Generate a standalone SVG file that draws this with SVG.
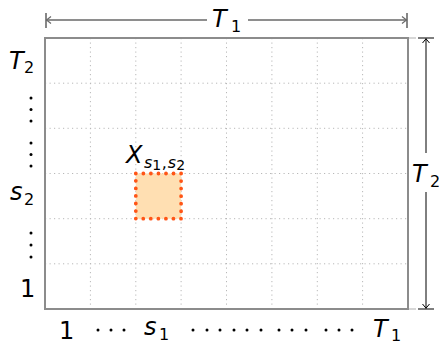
<svg xmlns="http://www.w3.org/2000/svg" width="439" height="344" viewBox="0 0 439 344">
<style>
.grid{stroke:#b8b8b8;stroke-width:1;stroke-dasharray:1.2 3.3;fill:none}
.frame{stroke:#8c8c8c;stroke-width:2;fill:none}
.ext{stroke:#b0b0b0;stroke-width:1.2}
.t{font-family:"DejaVu Sans",sans-serif;font-size:24px;fill:#000}
.s{font-family:"DejaVu Sans",sans-serif;font-size:16px;fill:#000}
.i{font-style:italic}
.dot{fill:#000}
</style>
<g id="grid">
<path class="grid" d="M90.4 38V309M135.8 38V309M181.1 38V309M226.5 38V309M271.9 38V309M317.3 38V309M362.6 38V309M45 83.2H408M45 128.3H408M45 173.5H408M45 218.7H408M45 263.8H408"/>
</g>
<g id="frame">
<rect class="frame" x="45" y="38" width="363" height="271"/>
<path class="ext" d="M409 38H416M409 309H416"/>
</g>
<g id="cell">
<rect x="135.8" y="173.5" width="45.3" height="45.2" fill="#FFDFB2" stroke="#FF5516" stroke-width="3.8" stroke-linecap="round" stroke-dasharray="0 7.55"/>
<text class="t i" x="126" y="163">X</text>
<text class="s" x="144" y="168" font-size="17"><tspan font-style="italic">s</tspan><tspan font-size="14" dy="2">1</tspan><tspan dy="-2" dx="0.5">,</tspan><tspan font-style="italic" dx="1">s</tspan><tspan font-size="14" dy="2">2</tspan></text>
</g>
<g id="connectors">
<path d="M46 20H207M248 20H407" stroke="#6a6a6a" stroke-width="1.3" fill="none"/>
<path d="M51 16.5L46.5 20L51 23.5M402 16.5L406.5 20L402 23.5" stroke="#6a6a6a" stroke-width="1.2" fill="none"/>
<path d="M46 13V28M407 13V28" stroke="#6a6a6a" stroke-width="1.6"/>
<path d="M426 38.5V153M426 192V308.5" stroke="#000" stroke-width="1" fill="none"/>
<path d="M422.5 43L426 38.8L429.5 43M422.5 304L426 308.2L429.5 304" stroke="#000" stroke-width="1" fill="none"/>
<path d="M418 38H434M418 309H434" stroke="#000" stroke-width="1.2"/>
</g>
<g id="labels">
<text class="t i" x="212" y="27">T</text>
<text class="s" x="231" y="32">1</text>
<text class="t i" x="412" y="182">T</text>
<text class="s" x="430" y="187">2</text>
<text class="t i" x="9" y="69">T</text>
<text class="s" x="24" y="73">2</text>
<text class="t i" x="10" y="200">s</text>
<text class="s" x="24" y="205">2</text>
<text class="t" x="20" y="297">1</text>
<text class="t" x="59" y="339">1</text>
<text class="t i" x="144" y="335">s</text>
<text class="s" x="159" y="340">1</text>
<text class="t i" x="373" y="337">T</text>
<text class="s" x="391" y="341">1</text>
<g class="dot">
<circle cx="31" cy="98" r="1.5"/><circle cx="31" cy="109.5" r="1.5"/><circle cx="31" cy="121" r="1.5"/>
<circle cx="31" cy="143" r="1.5"/><circle cx="31" cy="154.5" r="1.5"/><circle cx="31" cy="166" r="1.5"/>
<circle cx="31" cy="233" r="1.5"/><circle cx="31" cy="245" r="1.5"/><circle cx="31" cy="257" r="1.5"/>
<circle cx="98" cy="330" r="1.5"/><circle cx="111" cy="330" r="1.5"/><circle cx="124" cy="330" r="1.5"/>
<circle cx="193" cy="330" r="1.5"/><circle cx="207" cy="330" r="1.5"/><circle cx="220" cy="330" r="1.5"/>
<circle cx="234" cy="330" r="1.5"/><circle cx="247" cy="330" r="1.5"/><circle cx="261" cy="330" r="1.5"/>
<circle cx="279" cy="330" r="1.5"/><circle cx="292" cy="330" r="1.5"/><circle cx="306" cy="330" r="1.5"/>
<circle cx="326" cy="330" r="1.5"/><circle cx="339" cy="330" r="1.5"/><circle cx="352" cy="330" r="1.5"/>
</g>
</g>
</svg>
